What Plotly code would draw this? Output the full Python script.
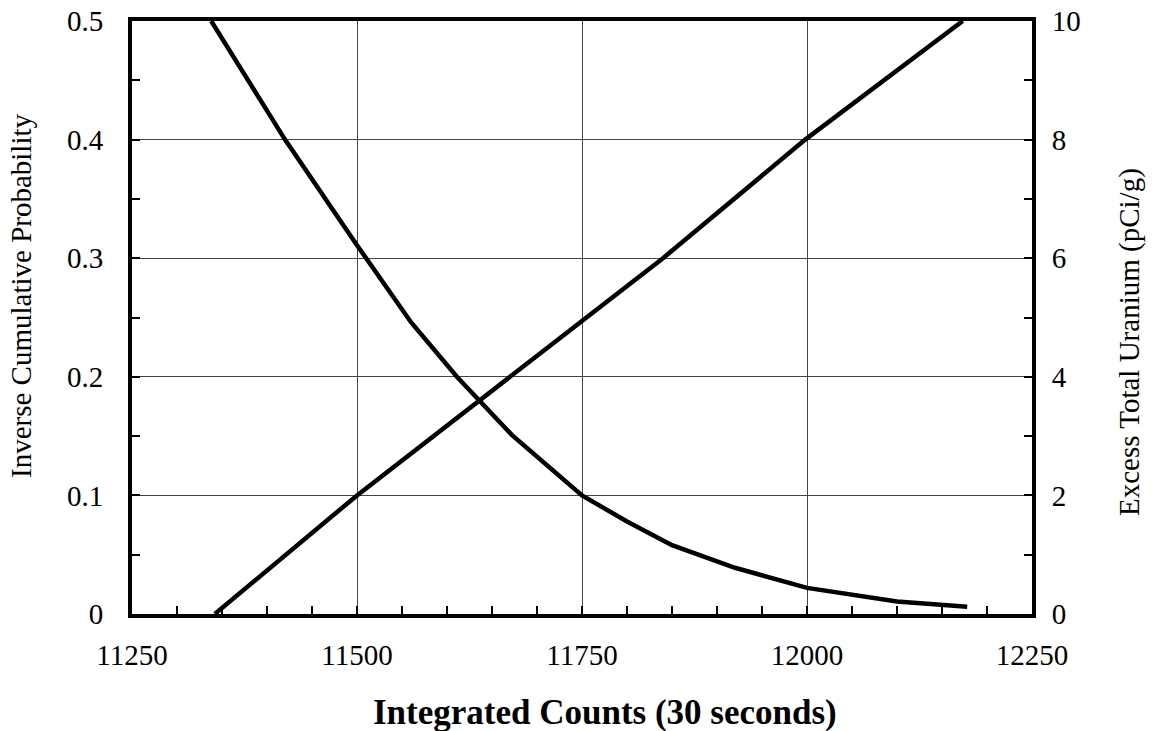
import plotly.graph_objects as go

# Inverse cumulative probability curve (left axis)
prob_counts = [11338, 11420, 11500, 11560, 11611, 11672, 11750, 11800, 11850, 11920, 12000, 12100, 12178]
prob_values = [0.5, 0.4, 0.311, 0.246, 0.2, 0.151, 0.100, 0.078, 0.058, 0.039, 0.022, 0.0105, 0.0062]

# Excess total uranium line (right axis)
uran_counts = [11342, 11500, 11670, 11840, 11998, 12173]
uran_values = [0, 2, 4, 6, 8, 10]

x_ticks = [11250, 11500, 11750, 12000, 12250]
y1_ticks = [0, 0.1, 0.2, 0.3, 0.4, 0.5]
y2_ticks = [0, 2, 4, 6, 8, 10]

FONT = "Liberation Serif"

fig = go.Figure()
fig.add_trace(go.Scatter(x=prob_counts, y=prob_values, mode="lines",
                         line=dict(color="black", width=4.5), yaxis="y",
                         showlegend=False, hoverinfo="skip"))
fig.add_trace(go.Scatter(x=uran_counts, y=uran_values, mode="lines",
                         line=dict(color="black", width=4.5), yaxis="y2",
                         showlegend=False, hoverinfo="skip"))

tick_common = dict(ticks="inside", ticklen=8, tickwidth=2, tickcolor="black",
                   showline=True, linecolor="black", linewidth=4, zeroline=False)

fig.update_layout(
    width=1152, height=731,
    margin=dict(l=132, r=120, t=21, b=117, autoexpand=False),
    paper_bgcolor="white", plot_bgcolor="white",
    font=dict(family=FONT, size=29, color="black"),
    xaxis=dict(
        range=[11250, 12250], tickvals=x_ticks, ticktext=[str(v) for v in x_ticks],
        showgrid=True, gridcolor="#444444", gridwidth=1, mirror=True,
        minor=dict(dtick=50, ticks="inside", ticklen=8, tickwidth=2, tickcolor="black", showgrid=False),
        ticklabelstandoff=12,
        **tick_common,
    ),
    yaxis=dict(
        range=[0, 0.5], tickvals=y1_ticks, ticktext=["0", "0.1", "0.2", "0.3", "0.4", "0.5"],
        showgrid=True, gridcolor="#444444", gridwidth=1,
        minor=dict(dtick=0.05, ticks="inside", ticklen=8, tickwidth=2, tickcolor="black", showgrid=False),
        ticklabelstandoff=19,
        **tick_common,
    ),
    yaxis2=dict(
        range=[0, 10], tickvals=y2_ticks, ticktext=[str(v) for v in y2_ticks],
        overlaying="y", side="right", showgrid=False,
        minor=dict(dtick=1, ticks="inside", ticklen=8, tickwidth=2, tickcolor="black", showgrid=False),
        ticklabelstandoff=10,
        **tick_common,
    ),
    annotations=[
        dict(text="<b>Integrated Counts (30 seconds)</b>", xref="paper", yref="paper",
             x=0.5256, y=-0.1653, xanchor="center", yanchor="middle", showarrow=False,
             font=dict(size=35, family=FONT)),
        dict(text="Inverse Cumulative Probability", xref="paper", yref="paper",
             x=-0.1233, y=0.5363, xanchor="center", yanchor="middle", showarrow=False,
             textangle=-90, font=dict(size=29, family=FONT)),
        dict(text="Excess Total Uranium (pCi/g)", xref="paper", yref="paper",
             x=1.1089, y=0.4587, xanchor="center", yanchor="middle", showarrow=False,
             textangle=-90, font=dict(size=29, family=FONT)),
    ],
)

fig.write_html("out.html", config={"displayModeBar": False},
               post_script="document.body.style.margin='0';")
